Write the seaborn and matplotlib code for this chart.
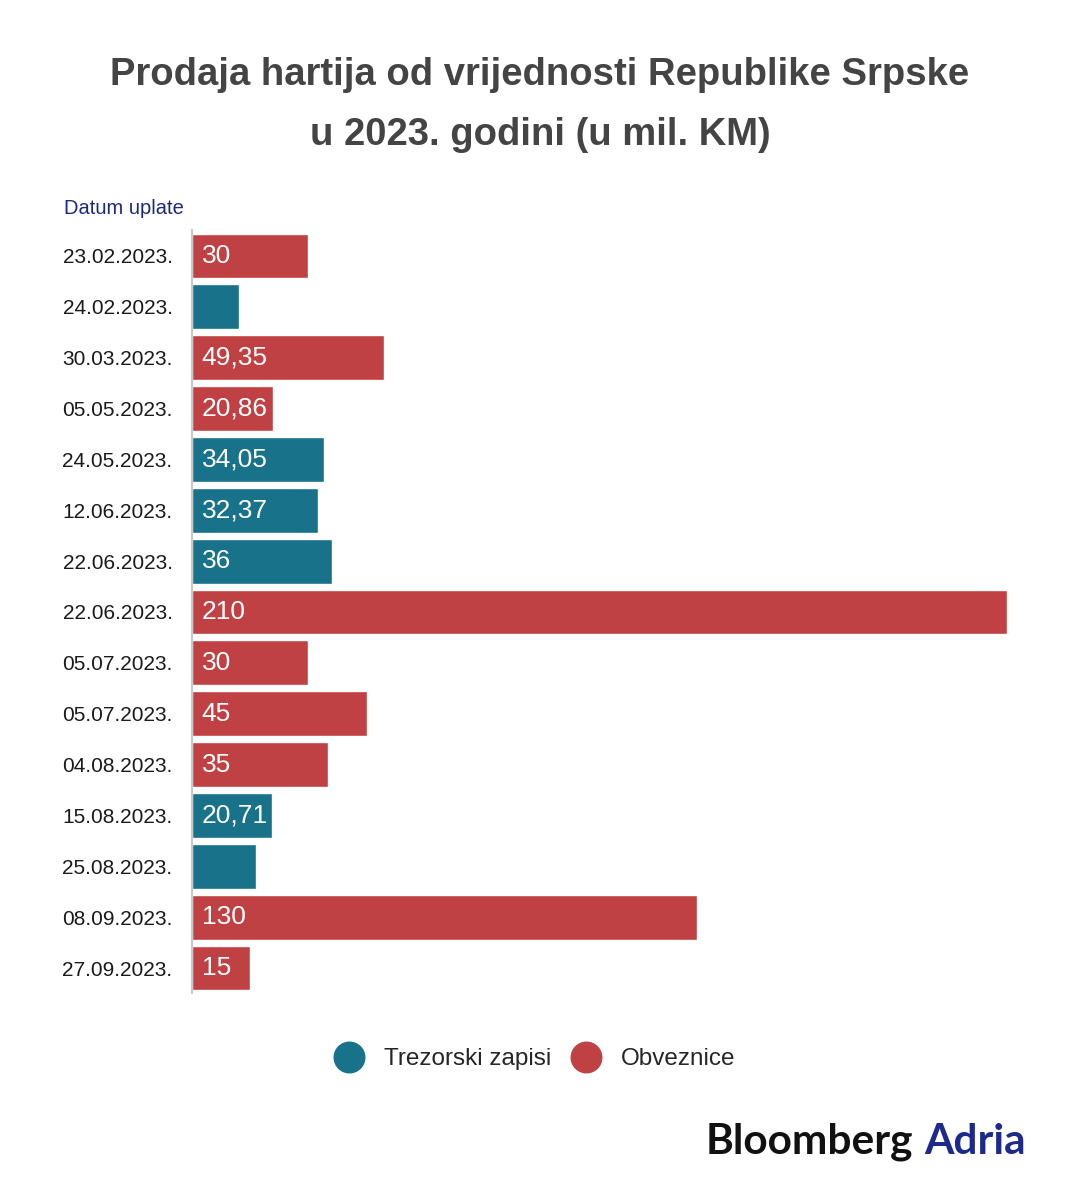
import matplotlib
matplotlib.use("Agg")
import matplotlib.pyplot as plt
from matplotlib.lines import Line2D
import seaborn as sns
import pandas as pd

dates = ["23.02.2023.", "24.02.2023.", "30.03.2023.", "05.05.2023.", "24.05.2023.",
         "12.06.2023.", "22.06.2023.", "22.06.2023.", "05.07.2023.", "05.07.2023.",
         "04.08.2023.", "15.08.2023.", "25.08.2023.", "08.09.2023.", "27.09.2023."]
values = [30, 12, 49.35, 20.86, 34.05, 32.37, 36, 210, 30, 45, 35, 20.71, 16.5, 130, 15]
types = ["Obveznice", "Trezorski zapisi", "Obveznice", "Obveznice", "Trezorski zapisi",
         "Trezorski zapisi", "Trezorski zapisi", "Obveznice", "Obveznice", "Obveznice",
         "Obveznice", "Trezorski zapisi", "Trezorski zapisi", "Obveznice", "Obveznice"]
labels = ["30", "", "49,35", "20,86", "34,05", "32,37", "36", "210", "30", "45",
          "35", "20,71", "", "130", "15"]
series = ["Trezorski zapisi", "Obveznice"]
colors = {"Trezorski zapisi": "#17728A", "Obveznice": "#C04143"}

sns.set_theme(style="white")
plt.rcParams["font.family"] = ["Liberation Sans", "DejaVu Sans"]

df = pd.DataFrame({"row": [str(i) for i in range(len(dates))], "value": values, "type": types})

fig = plt.figure(figsize=(10.8, 11.94), dpi=100)
ax = fig.add_axes([192 / 1080, 1 - 993.5 / 1194, (1007 - 192) / 1080, (993.5 - 230.5) / 1194])

sns.barplot(data=df, y="row", x="value", hue="type", hue_order=series, palette=colors,
            orient="h", dodge=False, width=0.88, ax=ax, legend=False, saturation=1)

ax.set_xlim(0, 210)
ax.set_yticks(range(len(dates)))
ax.set_yticklabels(dates, fontsize=15, color="#1a1a1a")
ax.tick_params(axis="y", length=0, pad=14)
ax.set_xticks([])
ax.set_xlabel("")
ax.set_ylabel("")
for s in ["top", "right", "bottom"]:
    ax.spines[s].set_visible(False)
ax.spines["left"].set_color("#c8c8c8")
ax.spines["left"].set_linewidth(1.5)

for i, (v, lab) in enumerate(zip(values, labels)):
    if lab:
        ax.annotate(lab, xy=(0, i), xytext=(7, 0), textcoords="offset points",
                    ha="left", va="center", color="white", fontsize=19)

fig.text(124 / 1080, 1 - 209 / 1194, "Datum uplate", ha="center", va="center",
         fontsize=14.5, color="#1b2a7a")

fig.text(0.5, 1 - 75 / 1194, "Prodaja hartija od vrijednosti Republike Srpske",
         ha="center", va="center", fontsize=27.5, fontweight="bold", color="#444444")
fig.text(0.5, 1 - 135 / 1194, "u 2023. godini (u mil. KM)",
         ha="center", va="center", fontsize=27.5, fontweight="bold", color="#444444")

handles = [Line2D([0], [0], marker="o", linestyle="", markersize=22,
                  markerfacecolor=colors[s], markeredgecolor=colors[s]) for s in series]
fig.legend(handles, series, loc="center", bbox_to_anchor=(530 / 1080, 1 - 1059 / 1194),
           ncol=2, frameon=False, fontsize=17.5, handletextpad=0.45, columnspacing=0.4)

fig.text(706 / 1080, 1 - 1142 / 1194, "Bloomberg", ha="left", va="center",
         fontsize=30.5, fontweight="bold", color="#111111", family=["Lato", "DejaVu Sans"])
fig.text(1026 / 1080, 1 - 1142 / 1194, "Adria", ha="right", va="center",
         fontsize=30.5, fontweight="bold", color="#1d2a8c", family=["Lato", "DejaVu Sans"])

fig.savefig("out.png", dpi=100, facecolor="white")
